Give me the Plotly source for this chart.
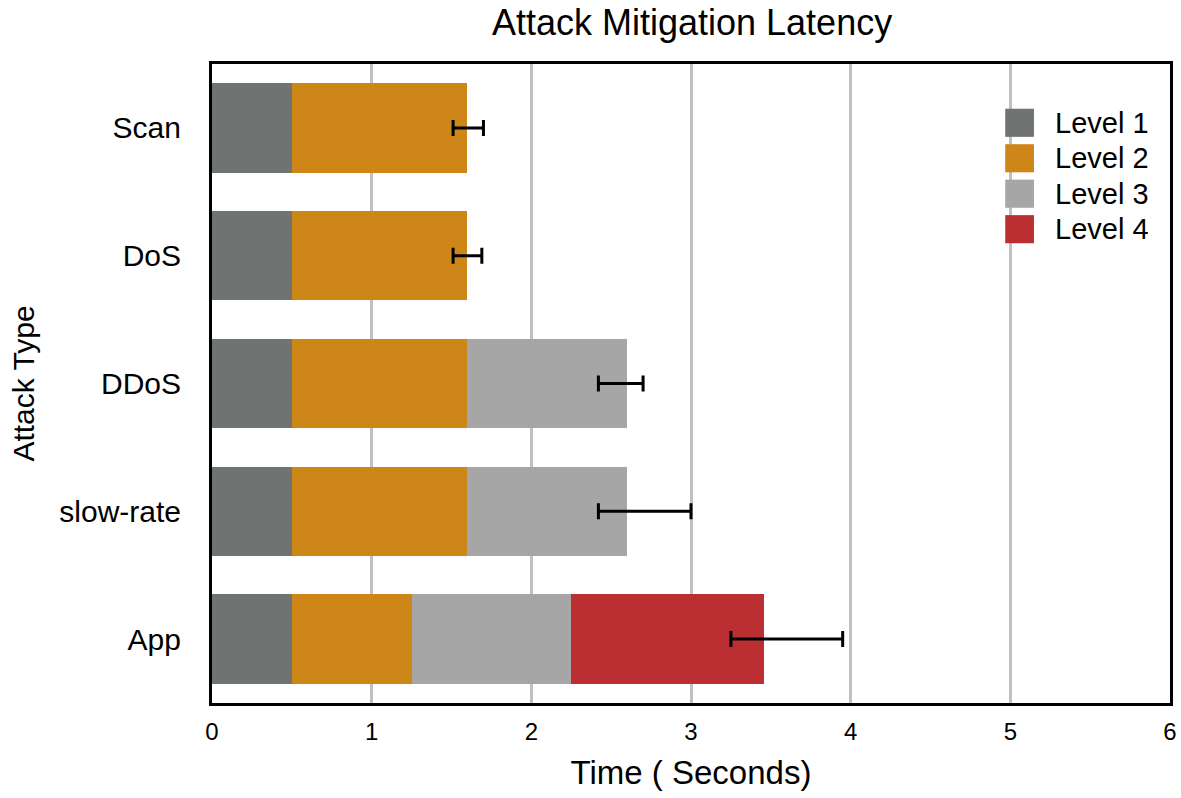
import plotly.graph_objects as go

attacks = ["Scan", "DoS", "DDoS", "slow-rate", "App"]

level1 = [0.5, 0.5, 0.5, 0.5, 0.5]
level2 = [1.1, 1.1, 1.1, 1.1, 0.75]
level3 = [0, 0, 1.0, 1.0, 1.0]
level4 = [0, 0, 0, 0, 1.21]

err_plus = [0.1, 0.09, 0.1, 0.4, 0.49]
err_minus = [0.09, 0.09, 0.18, 0.18, 0.21]

level_names = ["Level 1", "Level 2", "Level 3", "Level 4"]
level_colors = ["#6f7472", "#cf8619", "#a6a6a6", "#bb2f33"]
level_vals = [level1, level2, level3, level4]

totals = [a + b + c + d for a, b, c, d in zip(level1, level2, level3, level4)]

fig = go.Figure()
for name, vals, col in zip(level_names, level_vals, level_colors):
    fig.add_trace(go.Bar(y=attacks, x=vals, name=name, orientation="h", showlegend=False,
                         marker=dict(color=col, line=dict(width=0))))

# error bars at the end of each stack
fig.add_trace(go.Scatter(
    y=attacks, x=totals, mode="markers", showlegend=False,
    marker=dict(size=1, color="rgba(0,0,0,0)"),
    error_x=dict(type="data", symmetric=False, array=err_plus, arrayminus=err_minus,
                 color="black", thickness=3, width=8),
))

# legend drawn by hand so the swatches can be big squares
for i, (name, col) in enumerate(zip(level_names, level_colors)):
    yc = 0.908 - i * 0.0555
    fig.add_shape(type="rect", xref="paper", yref="paper",
                  x0=0.828, x1=0.858, y0=yc - 0.022, y1=yc + 0.022,
                  fillcolor=col, line=dict(width=0))
    fig.add_annotation(text=name, xref="paper", yref="paper", x=0.878, y=yc,
                       xanchor="left", yanchor="middle", showarrow=False,
                       font=dict(size=29))

font = "Liberation Sans, Arial, Helvetica, sans-serif"
fig.update_layout(
    width=1181, height=798,
    barmode="stack", bargap=0.3,
    plot_bgcolor="white", paper_bgcolor="white",
    font=dict(family=font, size=24, color="black"),
    margin=dict(l=212, r=4, t=64, b=95),
    title=dict(text="Attack Mitigation Latency", x=0.586, xanchor="center",
               y=0.988, yanchor="top", font=dict(size=36)),
    xaxis=dict(range=[0, 6], dtick=1, showgrid=True, gridcolor="#c0c0c0", gridwidth=3,
               showline=True, linecolor="black", linewidth=3, mirror=True,
               zeroline=False, ticks="", ticklabelstandoff=5,
               ticklabeloverflow="allow", tickfont=dict(size=24),
               title=dict(text="Time ( Seconds)", font=dict(size=33), standoff=18)),
    yaxis=dict(autorange="reversed", showgrid=False,
               showline=True, linecolor="black", linewidth=3, mirror=True,
               ticks="", ticklabelstandoff=22, tickfont=dict(size=30),
               title=dict(text="Attack Type", font=dict(size=30), standoff=16)),
)

fig.write_html("out.html", config={"displayModeBar": False},
               post_script="document.body.style.margin='0px';"
                           "document.body.style.overflow='hidden';")
